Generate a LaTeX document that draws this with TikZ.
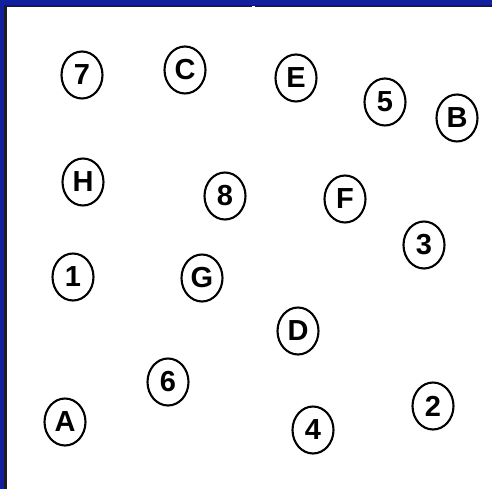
\documentclass[tikz,border=0pt]{standalone}
\usepackage{fontspec}
\setmainfont{Liberation Sans}
\usepackage{xcolor}
\usetikzlibrary{shapes, positioning, calc}

\definecolor{frameblue}{RGB}{18,32,158}
\definecolor{framedark}{RGB}{28,28,36}

\begin{document}
\begin{tikzpicture}[x=1pt, y=-1pt,
    spot/.style={ellipse, draw, line width=2.1pt, minimum width=41pt, minimum height=47pt,
                 inner sep=0pt, font=\fontsize{29}{32}\selectfont\bfseries}]
  % Canvas
  \useasboundingbox (0,0) rectangle (492,489);
  \fill[white] (0,0) rectangle (492,489);

  % Frame (top and left edges)
  \fill[frameblue] (0,0) rectangle (492,5);
  \fill[frameblue] (0,0) rectangle (4,489);
  \fill[framedark] (4,5) rectangle (492,7.5);
  \fill[framedark] (4,5) rectangle (6.5,489);
  \fill[white] (252,6) rectangle (255,8);

  % Letters
  \node[spot] (C) at (185,70) {C};
  \node[spot] (E) at (296,78) {E};
  \node[spot] (B) at (457,118) {B};
  \node[spot] (H) at (83,182) {H};
  \node[spot] (F) at (345,199) {F};
  \node[spot] (G) at (202,278) {G};
  \node[spot] (D) at (298,331) {D};
  \node[spot] (A) at (65,422) {A};

  % Numbers
  \node[spot] (n7) at (82,75) {7};
  \node[spot] (n5) at (385,102) {5};
  \node[spot] (n8) at (225,196) {8};
  \node[spot] (n3) at (424,245) {3};
  \node[spot] (n1) at (73,277) {1};
  \node[spot] (n6) at (168,382) {6};
  \node[spot] (n2) at (433,406) {2};
  \node[spot] (n4) at (313,430) {4};
\end{tikzpicture}
\end{document}
